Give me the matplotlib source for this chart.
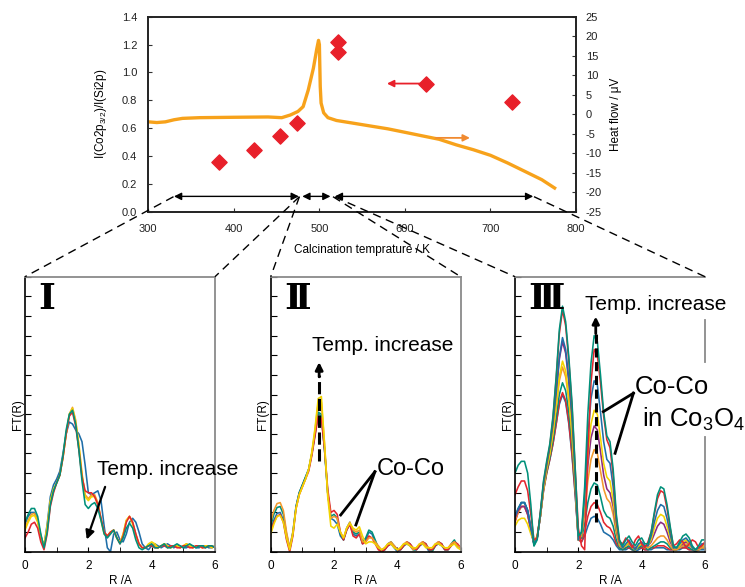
import matplotlib
matplotlib.use('Agg')
import matplotlib.pyplot as plt
from matplotlib.lines import Line2D

plt.rcParams['font.family'] = ['Liberation Sans', 'DejaVu Sans']
plt.rcParams['axes.unicode_minus'] = False

#%% top panel data
temp_xps = [383, 423, 454, 474, 522, 522, 625, 725]
ratio_xps = [0.36, 0.44, 0.54, 0.64, 1.22, 1.15, 0.92, 0.79]

temp_dsc = [300, 310, 320, 330, 340, 360, 400, 440, 456, 466, 475, 481, 487, 493, 497,
            499, 500, 501, 502, 505, 510, 520, 540, 560, 580, 600, 620, 640, 660, 680,
            700, 720, 740, 760, 775]
heat_flow = [-1.96, -2.14, -1.96, -1.43, -1.07, -0.89, -0.79, -0.71, -0.89, -0.21, 0.71,
             1.93, 6.21, 11.79, 16.79, 18.93, 17.86, 7.14, 2.86, 0.36, -0.89, -1.61, -2.32,
             -3.04, -3.75, -4.64, -5.54, -6.43, -7.86, -9.11, -10.54, -12.5, -14.64,
             -16.79, -18.93]

# temperature ranges of the three stages
stages = [(330, 476), (480, 513), (518, 750)]

#%% EXAFS data
R = [0.0, 0.1, 0.2, 0.3, 0.4, 0.5, 0.6, 0.7, 0.8, 0.9,
     1.0, 1.1, 1.2, 1.3, 1.4, 1.5, 1.6, 1.7, 1.8, 1.9,
     2.0, 2.1, 2.2, 2.3, 2.4, 2.5, 2.6, 2.7, 2.8, 2.9,
     3.0, 3.1, 3.2, 3.3, 3.4, 3.5, 3.6, 3.7, 3.8, 3.9,
     4.0, 4.1, 4.2, 4.3, 4.4, 4.5, 4.6, 4.7, 4.8, 4.9,
     5.0, 5.1, 5.2, 5.3, 5.4, 5.5, 5.6, 5.7, 5.8, 5.9,
     6.0]

ft1_blue = [1.4, 1.8, 2.0, 2.0, 1.6, 0.8, 0.3, 1.4, 2.8, 3.4,
            3.7, 4.1, 5.0, 6.0, 6.6, 6.5, 6.2, 6.0, 5.6, 4.4,
            3.0, 2.9, 3.0, 3.1, 2.6, 1.3, 0.2, 0.0, 0.9, 1.0,
            0.6, 0.5, 0.9, 1.5, 1.7, 1.5, 1.0, 0.4, 0.2, 0.1,
            0.3, 0.4, 0.3, 0.2, 0.3, 0.4, 0.3, 0.2, 0.3, 0.3,
            0.2, 0.2, 0.3, 0.3, 0.2, 0.2, 0.3, 0.3, 0.2, 0.2,
            0.3]
ft1_orange = [1.2, 1.6, 1.9, 1.95, 1.6, 0.8, 0.3, 1.2, 2.5, 3.1,
              3.5, 3.9, 4.8, 6.0, 7.0, 7.35, 6.7, 5.4, 3.9, 2.9,
              2.7, 2.9, 2.9, 2.5, 1.7, 1.0, 0.8, 1.0, 1.1, 0.7,
              0.45, 0.9, 1.6, 1.8, 1.5, 0.9, 0.4, 0.2, 0.2, 0.3,
              0.4, 0.3, 0.2, 0.3, 0.4, 0.3, 0.2, 0.3, 0.3, 0.2,
              0.3, 0.4, 0.3, 0.2, 0.3, 0.3, 0.2, 0.3, 0.3, 0.2,
              0.3]
ft1_yellow = [1.1, 1.5, 1.8, 1.85, 1.5, 0.7, 0.3, 1.3, 2.6, 3.2,
              3.5, 3.9, 4.8, 6.0, 7.0, 7.3, 6.6, 5.5, 4.0, 2.8,
              2.6, 2.8, 2.8, 2.4, 1.6, 0.9, 0.8, 1.0, 1.1, 0.7,
              0.45, 0.9, 1.6, 1.8, 1.4, 0.8, 0.4, 0.2, 0.2, 0.4,
              0.5, 0.4, 0.2, 0.3, 0.4, 0.3, 0.2, 0.3, 0.3, 0.2,
              0.3, 0.4, 0.3, 0.2, 0.3, 0.3, 0.2, 0.3, 0.3, 0.2,
              0.3]
ft1_red = [0.7, 1.0, 1.4, 1.5, 1.2, 0.5, 0.1, 0.9, 2.3, 3.0,
           3.5, 3.9, 4.8, 6.0, 6.9, 7.1, 6.4, 5.2, 3.8, 3.1,
           3.0, 3.0, 2.8, 2.4, 1.7, 1.0, 0.8, 1.0, 1.1, 0.7,
           0.4, 0.8, 1.5, 1.8, 1.5, 0.9, 0.4, 0.2, 0.2, 0.3,
           0.3, 0.2, 0.2, 0.3, 0.3, 0.2, 0.3, 0.3, 0.2, 0.2,
           0.3, 0.3, 0.2, 0.2, 0.3, 0.3, 0.2, 0.2, 0.3, 0.3,
           0.2]
ft1_teal = [1.5, 1.9, 2.2, 2.2, 1.8, 0.9, 0.2, 1.0, 2.4, 3.1,
            3.5, 3.9, 4.9, 6.2, 7.0, 7.2, 6.5, 5.2, 3.6, 2.4,
            2.2, 2.4, 2.5, 2.2, 1.6, 0.9, 0.7, 0.9, 1.1, 0.7,
            0.4, 0.7, 1.2, 1.45, 1.2, 0.6, 0.2, 0.1, 0.2, 0.3,
            0.4, 0.2, 0.2, 0.3, 0.4, 0.2, 0.2, 0.3, 0.4, 0.3,
            0.2, 0.3, 0.4, 0.3, 0.2, 0.3, 0.3, 0.2, 0.3, 0.3,
            0.2]

ft2_orange = [1.5, 2.1, 2.45, 2.5, 2.1, 1.0, 0.2, 1.0, 2.2, 2.9,
              3.3, 3.7, 4.2, 5.0, 6.2, 7.6, 7.6, 5.5, 3.0, 1.7,
              1.8, 1.7, 1.0, 0.7, 1.2, 1.5, 1.1, 1.0, 1.1, 0.5,
              0.5, 0.7, 0.7, 0.5, 0.3, 0.1, 0.2, 0.4, 0.5, 0.3,
              0.1, 0.2, 0.4, 0.5, 0.3, 0.1, 0.2, 0.4, 0.5, 0.3,
              0.2, 0.2, 0.4, 0.5, 0.3, 0.2, 0.2, 0.4, 0.5, 0.3,
              0.2]
ft2_teal = [1.3, 1.9, 2.25, 2.3, 1.9, 0.9, 0.2, 1.0, 2.3, 3.0,
            3.4, 3.8, 4.2, 5.0, 6.0, 7.1, 7.0, 5.2, 3.0, 1.8,
            1.9, 1.7, 0.9, 0.6, 1.2, 1.5, 1.0, 0.9, 1.0, 0.5,
            0.7, 1.1, 1.0, 0.6, 0.2, 0.0, 0.1, 0.4, 0.5, 0.3,
            0.1, 0.1, 0.3, 0.5, 0.4, 0.1, 0.1, 0.3, 0.5, 0.4,
            0.1, 0.0, 0.3, 0.5, 0.4, 0.1, 0.1, 0.4, 0.6, 0.3,
            0.2]
ft2_blue = [1.1, 1.6, 1.95, 2.0, 1.6, 0.7, 0.1, 0.9, 2.3, 3.0,
            3.4, 3.8, 4.2, 5.0, 6.0, 7.0, 6.9, 5.2, 3.0, 1.7,
            1.6, 1.4, 0.8, 0.6, 1.1, 1.4, 0.9, 0.8, 0.9, 0.4,
            0.6, 1.0, 0.9, 0.5, 0.2, 0.0, 0.1, 0.3, 0.4, 0.2,
            0.0, 0.1, 0.3, 0.4, 0.3, 0.1, 0.1, 0.3, 0.4, 0.3,
            0.0, 0.1, 0.3, 0.4, 0.3, 0.1, 0.1, 0.3, 0.5, 0.3,
            0.2]
ft2_red = [1.0, 1.5, 1.8, 1.9, 1.5, 0.6, 0.0, 0.8, 2.2, 2.9,
           3.3, 3.7, 4.1, 4.9, 5.9, 6.9, 6.8, 5.2, 3.2, 2.0,
           2.1, 1.9, 1.0, 0.6, 1.1, 1.4, 0.8, 0.7, 0.9, 0.4,
           0.5, 0.8, 0.7, 0.4, 0.1, 0.0, 0.1, 0.3, 0.4, 0.3,
           0.1, 0.1, 0.3, 0.5, 0.4, 0.2, 0.1, 0.3, 0.5, 0.4,
           0.1, 0.1, 0.3, 0.5, 0.4, 0.1, 0.1, 0.3, 0.5, 0.4,
           0.2]
ft2_yellow = [0.9, 1.4, 1.8, 1.85, 1.5, 0.7, 0.1, 0.9, 2.2, 2.9,
              3.3, 3.7, 4.2, 5.1, 6.3, 7.8, 7.9, 5.5, 2.8, 1.3,
              1.2, 1.4, 1.0, 0.7, 1.2, 1.45, 1.2, 1.1, 1.27, 0.8,
              0.4, 0.5, 0.5, 0.4, 0.2, 0.1, 0.2, 0.4, 0.4, 0.2,
              0.1, 0.2, 0.4, 0.4, 0.3, 0.2, 0.2, 0.4, 0.4, 0.2,
              0.2, 0.2, 0.4, 0.4, 0.3, 0.2, 0.2, 0.3, 0.4, 0.2,
              0.1]

ft3_blue2 = [1.6, 2.1, 2.5, 2.5, 2.1, 1.2, 0.4, 0.7, 1.8, 3.1,
             4.0, 4.7, 5.5, 6.5, 7.5, 8.0, 7.6, 6.5, 4.9, 2.9,
             0.7, 0.5, 0.8, 1.3, 1.7, 1.8, 1.7, 1.4, 1.0, 0.9,
             0.8, 0.6, 0.3, 0.1, 0.1, 0.1, 0.2, 0.1, 0.0, 0.1,
             0.2, 0.1, 0.1, 0.1, 0.2, 0.2, 0.2, 0.2, 0.1, 0.1,
             0.1, 0.1, 0.1, 0.2, 0.2, 0.1, 0.1, 0.0, 0.1, 0.1,
             0.1]
ft3_red2 = [1.5, 2.0, 2.3, 2.3, 1.9, 1.1, 0.4, 0.7, 1.8, 3.1,
            4.0, 4.7, 5.5, 6.5, 7.6, 8.1, 7.7, 6.6, 5.0, 3.0,
            0.6, 0.5, 1.0, 1.8, 2.3, 2.5, 2.4, 2.0, 1.5, 1.3,
            1.2, 0.9, 0.4, 0.2, 0.1, 0.2, 0.2, 0.1, 0.1, 0.2,
            0.2, 0.1, 0.1, 0.2, 0.2, 0.3, 0.3, 0.3, 0.2, 0.1,
            0.1, 0.1, 0.2, 0.2, 0.2, 0.1, 0.1, 0.1, 0.1, 0.2,
            0.2]
ft3_teal2 = [1.8, 2.2, 2.5, 2.5, 2.1, 1.2, 0.3, 0.7, 1.8, 3.2,
             4.1, 4.8, 5.7, 6.8, 8.0, 8.6, 8.2, 7.1, 5.5, 3.3,
             0.6, 0.7, 1.4, 2.5, 3.2, 3.5, 3.4, 2.8, 2.1, 1.8,
             1.7, 1.3, 0.6, 0.2, 0.1, 0.2, 0.3, 0.1, 0.1, 0.2,
             0.3, 0.2, 0.1, 0.2, 0.3, 0.4, 0.5, 0.5, 0.4, 0.2,
             0.1, 0.1, 0.2, 0.3, 0.3, 0.2, 0.1, 0.1, 0.1, 0.2,
             0.2]
ft3_orange = [1.6, 2.0, 2.3, 2.3, 1.9, 1.1, 0.5, 0.8, 1.8, 3.2,
              4.2, 5.0, 6.0, 7.3, 8.7, 9.4, 8.9, 7.7, 5.9, 3.5,
              0.6, 0.8, 1.9, 3.6, 4.7, 5.2, 5.0, 4.1, 3.2, 2.7,
              2.5, 1.9, 0.9, 0.3, 0.2, 0.3, 0.4, 0.2, 0.1, 0.3,
              0.4, 0.3, 0.2, 0.3, 0.5, 0.7, 0.8, 0.8, 0.6, 0.3,
              0.1, 0.1, 0.2, 0.3, 0.4, 0.3, 0.2, 0.1, 0.1, 0.2,
              0.2]
ft3_purple = [1.7, 2.1, 2.3, 2.3, 1.9, 1.1, 0.4, 0.7, 1.8, 3.3,
              4.3, 5.2, 6.4, 8.0, 9.8, 10.7, 10.1, 8.6, 6.6, 3.8,
              0.6, 0.9, 2.3, 4.4, 5.8, 6.4, 6.2, 5.1, 3.9, 3.2,
              3.0, 2.3, 1.1, 0.4, 0.2, 0.3, 0.5, 0.3, 0.2, 0.3,
              0.4, 0.2, 0.3, 0.5, 0.9, 1.3, 1.5, 1.4, 1.0, 0.5,
              0.2, 0.2, 0.3, 0.4, 0.5, 0.4, 0.2, 0.1, 0.2, 0.3,
              0.3]
ft3_yellow = [1.3, 1.6, 1.7, 1.7, 1.4, 0.9, 0.5, 0.8, 1.8, 3.2,
              4.2, 5.0, 6.1, 7.5, 8.9, 9.7, 9.2, 7.9, 6.1, 3.6,
              0.6, 0.9, 2.5, 4.9, 6.5, 7.2, 7.0, 5.8, 4.5, 3.8,
              3.6, 2.6, 1.2, 0.4, 0.2, 0.3, 0.5, 0.3, 0.1, 0.3,
              0.4, 0.2, 0.3, 0.6, 1.2, 1.7, 1.9, 1.8, 1.3, 0.7,
              0.2, 0.2, 0.3, 0.5, 0.6, 0.4, 0.2, 0.1, 0.2, 0.3,
              0.3]
ft3_blue = [1.8, 2.2, 2.5, 2.5, 2.1, 1.2, 0.4, 0.7, 1.9, 3.4,
            4.4, 5.3, 6.5, 8.1, 9.9, 10.9, 10.3, 8.8, 6.8, 3.9,
            0.6, 1.0, 2.8, 5.8, 7.8, 8.7, 8.5, 7.1, 5.6, 4.7,
            4.5, 3.3, 1.5, 0.5, 0.2, 0.4, 0.6, 0.3, 0.1, 0.4,
            0.5, 0.3, 0.3, 0.8, 1.5, 2.1, 2.4, 2.3, 1.7, 0.9,
            0.2, 0.2, 0.4, 0.6, 0.7, 0.5, 0.2, 0.1, 0.2, 0.4,
            0.4]
ft3_red = [2.9, 3.3, 3.6, 3.6, 3.1, 1.9, 0.6, 0.7, 2.0, 3.5,
           4.5, 5.4, 6.8, 8.8, 11.1, 12.3, 11.5, 9.7, 7.4, 4.2,
           1.2, 0.3, 0.1, 5.0, 8.6, 10.3, 10.0, 8.6, 6.9, 5.7,
           5.3, 3.9, 1.7, 0.5, 0.4, 0.7, 0.5, 0.2, 0.6, 0.8,
           0.4, 0.2, 0.5, 1.0, 1.9, 2.7, 3.1, 3.0, 2.2, 1.2,
           0.3, 0.4, 0.6, 0.5, 0.2, 0.4, 0.6, 0.5, 0.2, 0.3,
           0.5]
ft3_teal = [4.0, 4.4, 4.6, 4.6, 4.0, 2.4, 0.3, 0.6, 2.0, 3.6,
            4.6, 5.5, 6.9, 8.9, 11.3, 12.5, 11.7, 9.9, 7.6, 4.3,
            0.8, 1.0, 3.3, 7.0, 9.6, 11.0, 10.7, 9.0, 7.1, 5.9,
            5.6, 4.2, 1.9, 0.6, 0.3, 0.6, 0.8, 0.5, 0.3, 0.6,
            0.7, 0.4, 0.4, 1.0, 2.0, 2.9, 3.3, 3.2, 2.4, 1.3,
            0.3, 0.2, 0.5, 0.8, 0.9, 0.7, 0.3, 0.1, 0.3, 0.6,
            0.6]

c_blue = '#1f6ea8'
c_teal = '#00907a'
c_red = '#e3262e'
c_orange = '#f39a2c'
c_yellow = '#f2d400'
c_purple = '#8b2a82'

panel1 = [(ft1_blue, c_blue), (ft1_orange, c_orange), (ft1_yellow, c_yellow),
          (ft1_red, c_red), (ft1_teal, c_teal)]
panel2 = [(ft2_blue, c_blue), (ft2_teal, c_teal), (ft2_red, c_red),
          (ft2_orange, c_orange), (ft2_yellow, c_yellow)]
panel3 = [(ft3_blue2, c_blue), (ft3_red2, c_red), (ft3_teal2, c_teal),
          (ft3_orange, c_orange), (ft3_purple, c_purple), (ft3_yellow, c_yellow),
          (ft3_blue, c_blue), (ft3_red, c_red), (ft3_teal, c_teal)]

W, H = 745, 587
fig = plt.figure(figsize=(W / 100, H / 100), dpi=100)


def box(x0, y0, x1, y1):
    # pixel box (top-left origin) -> figure fraction rect
    return [x0 / W, 1 - y1 / H, (x1 - x0) / W, (y1 - y0) / H]


#%% top chart
ax = fig.add_axes(box(148.3, 16.7, 576, 211.7))
ax2 = ax.twinx()
ax2.plot(temp_dsc, heat_flow, color='#f7a21b', lw=2.4, zorder=2)
ax.scatter(temp_xps, ratio_xps, marker='D', s=60, color='#e8202a', zorder=4)
ax.set_zorder(ax2.get_zorder() + 1)
ax.patch.set_visible(False)

ax.set_xlim(300, 800)
ax.set_ylim(0, 1.4)
ax2.set_ylim(-25, 25)
ax.set_xticks(range(300, 801, 100))
ax.set_yticks([0, 0.2, 0.4, 0.6, 0.8, 1.0, 1.2, 1.4])
ax.set_yticklabels(['%.1f' % v for v in ax.get_yticks()])
ax2.set_yticks(range(-25, 26, 5))
ax.tick_params(direction='in', length=3, labelsize=8, color='#333333', labelcolor='#222222')
ax.tick_params(axis='y', pad=8)
ax.tick_params(axis='x', pad=9)
ax2.tick_params(direction='in', length=3, labelsize=8, pad=7, color='#333333',
                labelcolor='#222222')
ax.set_xlabel('Calcination temprature / K', fontsize=8.5, labelpad=7)
ax.set_ylabel(r'I(Co2p$_{\mathregular{3/2}}$)/I(Si2p)', fontsize=8.5, labelpad=9)
ax2.set_ylabel('Heat flow / μV', fontsize=8.5, labelpad=6)
for a in (ax, ax2):
    for s in a.spines.values():
        s.set_linewidth(1.2)
        s.set_color('#222222')

ax.annotate('', xy=(579, 0.92), xytext=(622, 0.92),
            arrowprops=dict(arrowstyle='-|>', color='#e8202a', lw=1.3,
                            mutation_scale=10, shrinkA=0, shrinkB=0))
ax.annotate('', xy=(676, 0.53), xytext=(636, 0.53),
            arrowprops=dict(arrowstyle='-|>', color='#f08a30', lw=1.3,
                            mutation_scale=10, shrinkA=0, shrinkB=0))
for t0, t1 in stages:
    ax.annotate('', xy=(t1, 0.11), xytext=(t0, 0.11),
                arrowprops=dict(arrowstyle='<|-|>', color='k', lw=1,
                                mutation_scale=11, shrinkA=0, shrinkB=0))

#%% EXAFS panels
panels = [(25, panel1, 'Ⅰ'), (270.7, panel2, 'Ⅱ'), (515, panel3, 'Ⅲ')]
axs = []
for left, curves, num in panels:
    a = fig.add_axes(box(left, 276.7, left + 190, 551.7))
    for y, col in curves:
        a.plot(R, y, color=col, lw=1.15)
    a.set_xlim(0, 6)
    a.set_ylim(0, 14)
    a.set_xticks([0, 2, 4, 6])
    a.set_xticks([1, 3, 5], minor=True)
    a.set_yticks(range(0, 15))
    a.tick_params(direction='in', length=3.5, labelsize=8.5, pad=6)
    a.tick_params(which='minor', direction='in', length=3.5)
    a.tick_params(axis='y', length=4, labelleft=False)
    a.set_xlabel('R /A', fontsize=8.5, labelpad=2)
    a.set_ylabel('FT(R)', fontsize=8.5, labelpad=1)
    a.spines['left'].set_linewidth(1.2)
    a.spines['bottom'].set_linewidth(1.2)
    for s in ('top', 'right'):
        a.spines[s].set_color('#8a8a8a')
        a.spines[s].set_linewidth(1.3)
    a.text(0.07, 0.98, num, transform=a.transAxes, ha='left', va='top',
           fontsize=26, fontweight='bold', family=['DejaVu Serif', 'DejaVu Sans'])
    axs.append(a)

a1, a2, a3 = axs

# panel I
a1.text(2.26, 3.93, 'Temp. increase', fontsize=15, va='baseline', ha='left')
a1.annotate('', xy=(1.95, 0.62), xytext=(2.53, 3.3),
            arrowprops=dict(arrowstyle='-|>', color='k', lw=1.6,
                            mutation_scale=13, shrinkA=0, shrinkB=0))

# panel II
a2.text(1.29, 10.2, 'Temp. increase', fontsize=15, va='baseline', ha='left')
a2.plot([1.53, 1.53], [4.6, 9.0], color='k', lw=2.2, ls=(0, (4, 1.5)))
a2.annotate('', xy=(1.53, 9.65), xytext=(1.53, 8.9),
            arrowprops=dict(arrowstyle='-|>', color='k', lw=2,
                            mutation_scale=11, shrinkA=0, shrinkB=0))
a2.text(3.35, 3.88, 'Co-Co', fontsize=17, va='baseline', ha='left')
a2.plot([3.29, 2.21], [4.07, 1.87], color='k', lw=2)
a2.plot([3.29, 2.69], [4.07, 1.36], color='k', lw=2)

# panel III
a3.spines['right'].set_bounds(0, 5.84)
a3.plot([6, 6], [9.66, 11.79], color='#8a8a8a', lw=1.3, clip_on=False)
a3.text(2.21, 12.3, 'Temp. increase', fontsize=15, va='baseline', ha='left')
a3.plot([2.55, 2.55], [1.53, 11.2], color='k', lw=2.2, ls=(0, (3, 1.5)))
a3.annotate('', xy=(2.55, 11.97), xytext=(2.55, 11.1),
            arrowprops=dict(arrowstyle='-|>', color='k', lw=2,
                            mutation_scale=10, shrinkA=0, shrinkB=0))
a3.text(3.79, 8.05, 'Co-Co', fontsize=18.5, va='baseline', ha='left')
a3.text(4.0, 6.35, r'in Co$_{\mathregular{3}}$O$_{\mathregular{4}}$', fontsize=18.5,
        va='baseline', ha='left')
a3.plot([3.74, 2.79], [8.07, 7.13], color='k', lw=2)
a3.plot([3.74, 3.16], [8.07, 5.01], color='k', lw=2)

#%% dashed connectors (pixel coords)
links = [((173.5, 196.7), (25, 276.7)),
         ((299.4, 196.7), (215, 276.7)),
         ((299.4, 196.7), (270.7, 276.7)),
         ((333, 196.7), (460.7, 276.7)),
         ((335, 197), (515, 276.7)),
         ((534, 196.7), (705, 276.7))]
for (x0, y0), (x1, y1) in links:
    fig.add_artist(Line2D([x0 / W, x1 / W], [1 - y0 / H, 1 - y1 / H],
                          transform=fig.transFigure, color='k', lw=1,
                          ls=(0, (6, 4)), zorder=10))

fig.savefig('out.png', dpi=100)
